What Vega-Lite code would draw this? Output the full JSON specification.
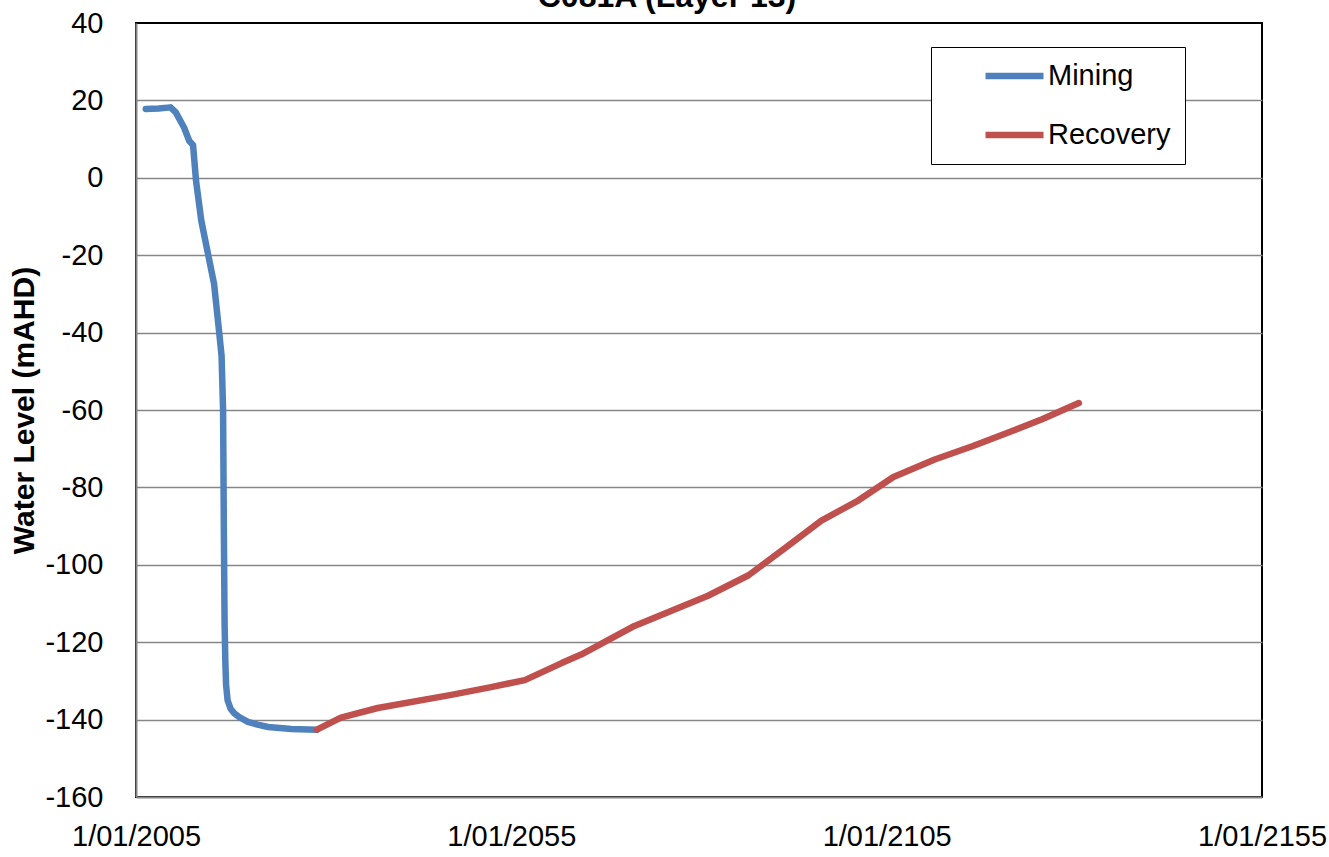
{
  "$schema": "https://vega.github.io/schema/vega-lite/v6.json",
  "width": 1126,
  "height": 774,
  "autosize": {"type": "none"},
  "padding": {"left": 136, "top": 23, "right": 67, "bottom": 60},
  "background": "white",
  "title": {
    "text": "C081A (Layer 13)",
    "font": "Liberation Sans",
    "fontSize": 32,
    "fontWeight": "bold",
    "color": "black",
    "anchor": "middle",
    "baseline": "alphabetic",
    "offset": 0,
    "dy": 30,
    "dx": -32
  },
  "config": {
    "font": "Liberation Sans",
    "view": {"stroke": "black", "strokeWidth": 2}
  },
  "data": {
    "values": [
      {"year": 2006.3, "level": 17.8, "series": "Mining"},
      {"year": 2008.0, "level": 17.9, "series": "Mining"},
      {"year": 2009.6, "level": 18.2, "series": "Mining"},
      {"year": 2010.3, "level": 16.9, "series": "Mining"},
      {"year": 2011.4, "level": 13.0, "series": "Mining"},
      {"year": 2012.1, "level": 9.5, "series": "Mining"},
      {"year": 2012.6, "level": 8.5, "series": "Mining"},
      {"year": 2013.0, "level": -0.8, "series": "Mining"},
      {"year": 2013.7, "level": -11.1, "series": "Mining"},
      {"year": 2015.4, "level": -27.4, "series": "Mining"},
      {"year": 2016.1, "level": -40.3, "series": "Mining"},
      {"year": 2016.4, "level": -46.0, "series": "Mining"},
      {"year": 2016.6, "level": -60.0, "series": "Mining"},
      {"year": 2016.7, "level": -90.0, "series": "Mining"},
      {"year": 2016.8, "level": -115.0, "series": "Mining"},
      {"year": 2016.9, "level": -125.0, "series": "Mining"},
      {"year": 2017.0, "level": -131.0, "series": "Mining"},
      {"year": 2017.2, "level": -135.0, "series": "Mining"},
      {"year": 2017.6, "level": -137.2, "series": "Mining"},
      {"year": 2018.1, "level": -138.4, "series": "Mining"},
      {"year": 2018.8, "level": -139.4, "series": "Mining"},
      {"year": 2019.9, "level": -140.6, "series": "Mining"},
      {"year": 2021.2, "level": -141.3, "series": "Mining"},
      {"year": 2022.6, "level": -141.9, "series": "Mining"},
      {"year": 2025.7, "level": -142.4, "series": "Mining"},
      {"year": 2029.1, "level": -142.6, "series": "Mining"},
      {"year": 2029.1, "level": -142.6, "series": "Recovery"},
      {"year": 2032.3, "level": -139.5, "series": "Recovery"},
      {"year": 2037.2, "level": -137.0, "series": "Recovery"},
      {"year": 2047.0, "level": -133.6, "series": "Recovery"},
      {"year": 2052.3, "level": -131.6, "series": "Recovery"},
      {"year": 2056.8, "level": -129.8, "series": "Recovery"},
      {"year": 2061.7, "level": -125.4, "series": "Recovery"},
      {"year": 2064.3, "level": -123.2, "series": "Recovery"},
      {"year": 2071.4, "level": -115.8, "series": "Recovery"},
      {"year": 2081.2, "level": -108.0, "series": "Recovery"},
      {"year": 2086.6, "level": -102.7, "series": "Recovery"},
      {"year": 2091.5, "level": -95.6, "series": "Recovery"},
      {"year": 2096.3, "level": -88.6, "series": "Recovery"},
      {"year": 2101.2, "level": -83.4, "series": "Recovery"},
      {"year": 2105.9, "level": -77.3, "series": "Recovery"},
      {"year": 2111.4, "level": -72.8, "series": "Recovery"},
      {"year": 2116.5, "level": -69.3, "series": "Recovery"},
      {"year": 2121.2, "level": -65.8, "series": "Recovery"},
      {"year": 2125.7, "level": -62.4, "series": "Recovery"},
      {"year": 2130.6, "level": -58.2, "series": "Recovery"}
    ]
  },
  "mark": {"type": "line", "strokeWidth": 6.5, "strokeCap": "round", "strokeJoin": "round"},
  "encoding": {
    "x": {
      "field": "year",
      "type": "quantitative",
      "scale": {"domain": [2005, 2155], "nice": false, "zero": false},
      "axis": {
        "title": null,
        "values": [2005, 2055, 2105, 2155],
        "labelExpr": "'1/01/' + datum.value",
        "grid": false,
        "ticks": false,
        "domainColor": "#868686",
        "domainWidth": 2,
        "labelFontSize": 29,
        "labelColor": "black",
        "labelPadding": 25,
        "labelFlush": false,
        "labelOverlap": false
      }
    },
    "y": {
      "field": "level",
      "type": "quantitative",
      "scale": {"domain": [-160, 40], "nice": false, "zero": false},
      "axis": {
        "title": "Water Level (mAHD)",
        "titleFontSize": 30,
        "titleFontWeight": "bold",
        "titleColor": "black",
        "titlePadding": 5,
        "values": [-160, -140, -120, -100, -80, -60, -40, -20, 0, 20, 40],
        "labelExpr": "'' + datum.value",
        "ticks": false,
        "domainColor": "#868686",
        "domainWidth": 2,
        "gridColor": "#868686",
        "gridWidth": 1.5,
        "gridOpacity": {"condition": {"test": "datum.value === 40 || datum.value === -160", "value": 0}, "value": 1},
        "labelFontSize": 29,
        "labelColor": "black",
        "labelPadding": 33,
        "labelOverlap": false
      }
    },
    "color": {
      "field": "series",
      "type": "nominal",
      "scale": {"domain": ["Mining", "Recovery"], "range": ["#4F81BD", "#C0504D"]},
      "legend": {
        "title": null,
        "orient": "none",
        "legendX": 795,
        "legendY": 24,
        "strokeColor": "black",
        "fillColor": "white",
        "padding": 14,
        "symbolType": "stroke",
        "symbolSize": 3364,
        "symbolStrokeWidth": 6.5,
        "symbolOffset": 37,
        "labelOffset": 1,
        "rowPadding": 29,
        "clipHeight": 30,
        "labelFontSize": 29,
        "labelColor": "black",
        "encoding": {"legend": {"update": {"strokeWidth": {"value": 2}}}}
      }
    }
  }
}
